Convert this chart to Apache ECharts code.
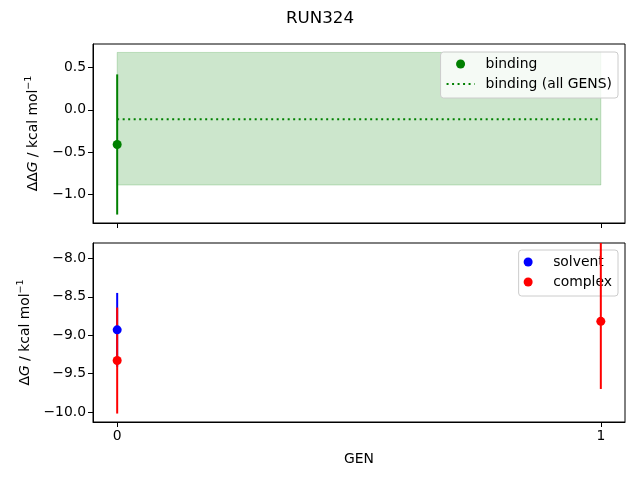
<!DOCTYPE html>
<html><head><meta charset="utf-8">
<script src="https://cdn.jsdelivr.net/npm/echarts@6/dist/echarts.min.js"></script>
<style>html,body{margin:0;padding:0;background:#fff}#c{width:640px;height:480px}</style>
</head><body><div id="c"></div>
<script>
// ---- data ----
const title = 'RUN324';
const genTicks = [0, 1];
const bindingGen = [0];
const bindingVal = [-0.41];
const bindingLo = [-1.24];
const bindingHi = [0.42];
const bindingAllVal = -0.11;
const bindingAllLo = -0.89;
const bindingAllHi = 0.68;
const solventGen = [0];
const solventVal = [-8.93];
const solventLo = [-9.41];
const solventHi = [-8.45];
const complexGen = [0, 1];
const complexVal = [-9.33, -8.82];
const complexLo = [-10.02, -9.70];
const complexHi = [-8.64, -7.70];
const topYTicks = [-1.0, -0.5, 0.0, 0.5];
const botYTicks = [-10.0, -9.5, -9.0, -8.5, -8.0];

const FONT = 'DejaVu Sans';
const chart = echarts.init(document.getElementById('c'), null, {renderer: 'canvas'});

function errData(gens, lo, hi) { return gens.map((g, i) => [g, lo[i], hi[i]]); }
function pts(gens, vals) { return gens.map((g, i) => [g, vals[i]]); }

function errSeries(name, idx, data, color, z) {
  return {
    name: name, type: 'custom', xAxisIndex: idx, yAxisIndex: idx, z: z,
    silent: true, legendHoverLink: false,
    data: data,
    renderItem: function (params, api) {
      const cs = params.coordSys;
      const p1 = api.coord([api.value(0), api.value(1)]);
      const p2 = api.coord([api.value(0), api.value(2)]);
      const clampY = y => Math.max(cs.y, Math.min(cs.y + cs.height, y));
      return {
        type: 'line',
        shape: {x1: p1[0], y1: clampY(p1[1]), x2: p2[0], y2: clampY(p2[1])},
        style: {stroke: color, lineWidth: 2}
      };
    }
  };
}

function yAxisName(prefix) {
  return '{n|' + prefix + '}{it|G}{n| / kcal mol}{sup|−1}';
}
const nameRich = {
  n: {fontFamily: FONT, fontSize: 13.9, color: '#000'},
  it: {fontFamily: FONT, fontSize: 13.9, fontStyle: 'italic', color: '#000'},
  sup: {fontFamily: FONT, fontSize: 9.5, color: '#000', verticalAlign: 'bottom', padding: [0, 0, 8, 0]}
};

const xCommon = {
  type: 'value', min: -0.05, max: 1.05,
  axisLine: {show: true, onZero: false, lineStyle: {color: '#000', width: 1}},
  axisTick: {show: true, inside: false, length: 5, lineStyle: {color: '#000'}, customValues: genTicks},
  splitLine: {show: false}
};
const yCommon = {
  type: 'value',
  axisLine: {show: true, onZero: false, lineStyle: {color: '#000', width: 1}},
  splitLine: {show: false},
  nameLocation: 'middle', nameRotate: 90
};

const legendCommon = {
  orient: 'vertical', right: 22, itemGap: 4, itemWidth: 28, itemHeight: 9,
  padding: [4, 6, 6, 5],
  backgroundColor: 'rgba(255,255,255,0.8)', borderColor: '#cccccc', borderWidth: 1, borderRadius: 3,
  textStyle: {fontFamily: FONT, fontSize: 13.9, color: '#000', lineHeight: 16, padding: [0, 0, 0, 6]}
};

const option = {
  animation: false,
  backgroundColor: '#fff',
  title: {text: title, left: 'center', top: 5,
    textStyle: {fontFamily: FONT, fontSize: 16.7, fontWeight: 'normal', color: '#000'}},
  grid: [
    {left: 93, top: 44, width: 532, height: 179, show: true, borderColor: '#000', borderWidth: 1, backgroundColor: 'transparent'},
    {left: 93, top: 243, width: 532, height: 179, show: true, borderColor: '#000', borderWidth: 1, backgroundColor: 'transparent'}
  ],
  xAxis: [
    Object.assign({}, xCommon, {gridIndex: 0, axisLabel: {show: false, customValues: genTicks}}),
    Object.assign({}, xCommon, {gridIndex: 1, name: 'GEN', nameLocation: 'middle', nameGap: 30,
      nameTextStyle: {fontFamily: FONT, fontSize: 13.9, color: '#000'},
      axisLabel: {show: true, customValues: genTicks, margin: 7, fontFamily: FONT, fontSize: 13.9, color: '#000',
        formatter: v => String(v)}})
  ],
  yAxis: [
    Object.assign({}, yCommon, {gridIndex: 0, min: -1.34, max: 0.78,
      name: yAxisName('ΔΔ'), nameGap: 51, nameTextStyle: {rich: nameRich},
      axisTick: {show: true, length: 5, lineStyle: {color: '#000'}, customValues: topYTicks},
      axisLabel: {customValues: topYTicks, margin: 7, fontFamily: FONT, fontSize: 13.9, color: '#000',
        formatter: v => v.toFixed(1).replace('-', '−')}}),
    Object.assign({}, yCommon, {gridIndex: 1, min: -10.13, max: -7.8,
      name: yAxisName('Δ'), nameGap: 59, nameTextStyle: {rich: nameRich},
      axisTick: {show: true, length: 5, lineStyle: {color: '#000'}, customValues: botYTicks},
      axisLabel: {customValues: botYTicks, margin: 7, fontFamily: FONT, fontSize: 13.9, color: '#000',
        formatter: v => v.toFixed(1).replace('-', '−')}})
  ],
  legend: [
    Object.assign({}, legendCommon, {top: 52,
      data: [{name: 'binding', icon: 'circle'}, {name: 'binding (all GENS)', itemStyle: {opacity: 0}}]}),
    Object.assign({}, legendCommon, {top: 250,
      data: [{name: 'solvent', icon: 'circle'}, {name: 'complex', icon: 'circle'}]})
  ],
  series: [
    {
      name: 'shade', type: 'custom', xAxisIndex: 0, yAxisIndex: 0, z: 1, silent: true,
      data: [[genTicks[0], bindingAllLo, genTicks[genTicks.length - 1], bindingAllHi]],
      renderItem: function (params, api) {
        const a = api.coord([api.value(0), api.value(3)]);
        const b = api.coord([api.value(2), api.value(1)]);
        return {type: 'rect', shape: {x: a[0], y: a[1], width: b[0] - a[0], height: b[1] - a[1]},
          style: {fill: 'rgba(0,128,0,0.2)', stroke: 'rgba(0,128,0,0.2)', lineWidth: 1}};
      }
    },
    {
      name: 'binding (all GENS)', type: 'line', xAxisIndex: 0, yAxisIndex: 0, z: 2,
      symbol: 'none', color: '#008000',
      lineStyle: {color: '#008000', width: 2, type: [2, 3.5]},
      data: genTicks.map(g => [g, bindingAllVal])
    },
    errSeries('binding-err', 0, errData(bindingGen, bindingLo, bindingHi), '#008000', 3),
    {
      name: 'binding', type: 'scatter', xAxisIndex: 0, yAxisIndex: 0, z: 4,
      symbol: 'circle', symbolSize: 9, itemStyle: {color: '#008000', opacity: 1}, color: '#008000',
      data: pts(bindingGen, bindingVal)
    },
    errSeries('solvent-err', 1, errData(solventGen, solventLo, solventHi), '#0000ff', 3),
    errSeries('complex-err', 1, errData(complexGen, complexLo, complexHi), '#ff0000', 4),
    {
      name: 'complex', type: 'scatter', xAxisIndex: 1, yAxisIndex: 1, z: 5,
      symbol: 'circle', symbolSize: 9, itemStyle: {color: '#ff0000', opacity: 1}, color: '#ff0000',
      data: pts(complexGen, complexVal)
    },
    {
      name: 'solvent', type: 'scatter', xAxisIndex: 1, yAxisIndex: 1, z: 6,
      symbol: 'circle', symbolSize: 9, itemStyle: {color: '#0000ff', opacity: 1}, color: '#0000ff',
      data: pts(solventGen, solventVal)
    }
  ]
};
chart.setOption(option);
</script>
</body></html>
